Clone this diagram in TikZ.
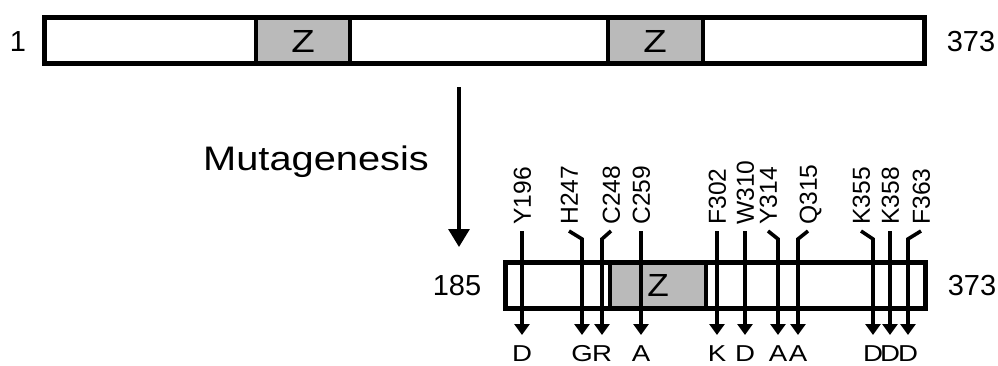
\documentclass[tikz,border=0pt]{standalone}
\usepackage{fontspec}
\setmainfont{Liberation Sans}
\usetikzlibrary{arrows.meta}
\definecolor{zgrey}{gray}{0.73}

\begin{document}
\begin{tikzpicture}[
  x=0.5pt, y=-0.5pt,
  bar/.style={line width=2.5pt},
  zone/.style={draw,fill=zgrey,line width=1.7pt},
  zlbl/.style={font=\fontsize{16}{16}\selectfont},
  endnum/.style={font=\fontsize{14.5}{15}\selectfont},
  site/.style={rotate=90,anchor=west,inner xsep=3pt,inner ysep=0pt,
               text height=8.8pt,text depth=0pt,font=\fontsize{12.3}{12}\selectfont},
  res/.style={anchor=north,inner xsep=0pt,inner ysep=5pt,
              font=\fontsize{11.5}{12}\selectfont},
  mut/.style={-{Triangle[length=5.5pt,width=7.5pt]},line width=1.8pt},
  big/.style={-{Triangle[length=9pt,width=10.5pt]},line width=1.6pt},
]
\useasboundingbox (0,0) rectangle (998,365);

\draw[zone] (256,17) rectangle (350,63);
\draw[zone] (608,17) rectangle (703,63);
\draw[bar] (44,17) rectangle (924,63);
\node[zlbl] (z1) at (303,41) {\scalebox{1.2}[1]{Z}};
\node[zlbl] (z2) at (655,41) {\scalebox{1.2}[1]{Z}};
\node[endnum] (n1) at (18,42) {1};
\node[endnum] (c1) at (971,42) {373};

\coordinate (top) at (459,87);
\coordinate (bot) at (459,247);
\draw[big] (top) -- (bot);
\node[font=\fontsize{17}{17}\selectfont] (mg) at (316,162) {\scalebox{1.17}[1]{Mutagenesis}};

\draw[zone] (610,262) rectangle (706,308);
\draw[bar] (505,262) rectangle (925,308);
\node[zlbl] (z3) at (658,285) {\scalebox{1.1}[1]{Z}};
\node[endnum] (n2) at (457,286) {185};
\node[endnum] (c2) at (972,286) {373};

\foreach \lx/\sx/\aa/\bb [count=\i] in {522/522/Y196/D, 582/569/H247/G,
    602/611/C248/R, 641/641/C259/A, 717/717/F302/K, 745/745/W310/D,
    778/768/Y314/A, 798/808/Q315/A, 873/861/K355/D, 890/890/K358/D,
    908/921/F363/D} {
  \node[site] (s\i) at (\sx,231) {\aa};
  \node[res] (r\i) at (\lx,335) {\scalebox{1.2}[1]{\bb}};
  \draw[mut] (s\i.west) -- (r\i.north |- 0,239) -- (r\i.north);
}
\end{tikzpicture}
\end{document}
